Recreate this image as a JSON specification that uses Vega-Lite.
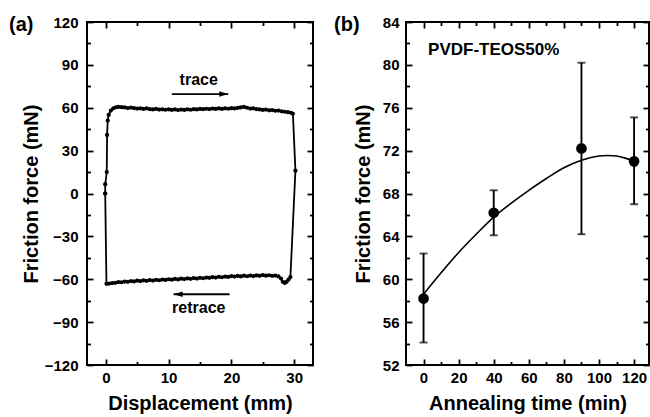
{
  "$schema": "https://vega.github.io/schema/vega-lite/v6.json",
  "padding": {"left": 8, "top": 14, "right": 0, "bottom": 0},
  "bounds": "flush",
  "spacing": 93,
  "config": {
    "font": "Liberation Sans",
    "view": {"stroke": "black", "strokeWidth": 2},
    "axis": {
      "domain": false,
      "tickColor": "black", "tickWidth": 1.8,
      "labelColor": "black", "labelFont": "Liberation Sans", "labelFontSize": 15, "labelFontWeight": "bold",
      "labelFlush": false, "labelOverlap": false, "labelBound": false,
      "titleFont": "Liberation Sans", "titleFontSize": 20, "titleFontWeight": "bold", "titleColor": "black",
      "grid": false
    },
    "title": {"font": "Liberation Sans", "fontSize": 20, "fontWeight": "bold", "color": "black"}
  },
  "datasets": {
    "loop": [
      {"i": 0, "disp": -0.1, "force": 0},
      {"i": 1, "disp": -0.1, "force": 6.5},
      {"i": 2, "disp": 0.15, "force": 15},
      {"i": 3, "disp": 0.2, "force": 41},
      {"i": 4, "disp": 0.3, "force": 51},
      {"i": 5, "disp": 0.45, "force": 55},
      {"i": 6, "disp": 0.8, "force": 58},
      {"i": 7, "disp": 1.2, "force": 59.6},
      {"i": 8, "disp": 1.6, "force": 60.3},
      {"i": 9, "disp": 2.0, "force": 60.6},
      {"i": 10, "disp": 2.5, "force": 60.4},
      {"i": 11, "disp": 3.0, "force": 60.2},
      {"i": 12, "disp": 3.5, "force": 59.8},
      {"i": 13, "disp": 4.0, "force": 60.1},
      {"i": 14, "disp": 4.5, "force": 59.7},
      {"i": 15, "disp": 5.0, "force": 59.4},
      {"i": 16, "disp": 5.5, "force": 59.6},
      {"i": 17, "disp": 6.0, "force": 59.2},
      {"i": 18, "disp": 6.5, "force": 59.5},
      {"i": 19, "disp": 7.0, "force": 59.0},
      {"i": 20, "disp": 7.5, "force": 58.8},
      {"i": 21, "disp": 8.0, "force": 59.2},
      {"i": 22, "disp": 8.5, "force": 58.7},
      {"i": 23, "disp": 9.0, "force": 58.9},
      {"i": 24, "disp": 9.5, "force": 58.6},
      {"i": 25, "disp": 10.0, "force": 58.9},
      {"i": 26, "disp": 10.5, "force": 58.5},
      {"i": 27, "disp": 11.0, "force": 58.8},
      {"i": 28, "disp": 11.5, "force": 58.4},
      {"i": 29, "disp": 12.0, "force": 58.7},
      {"i": 30, "disp": 12.5, "force": 58.5},
      {"i": 31, "disp": 13.0, "force": 58.9},
      {"i": 32, "disp": 13.5, "force": 58.6},
      {"i": 33, "disp": 14.0, "force": 59.0},
      {"i": 34, "disp": 14.5, "force": 58.8},
      {"i": 35, "disp": 15.0, "force": 59.2},
      {"i": 36, "disp": 15.5, "force": 59.0},
      {"i": 37, "disp": 16.0, "force": 59.3},
      {"i": 38, "disp": 16.5, "force": 59.1},
      {"i": 39, "disp": 17.0, "force": 59.4},
      {"i": 40, "disp": 17.5, "force": 59.2},
      {"i": 41, "disp": 18.0, "force": 59.5},
      {"i": 42, "disp": 18.5, "force": 59.2},
      {"i": 43, "disp": 19.0, "force": 59.6},
      {"i": 44, "disp": 19.5, "force": 59.3},
      {"i": 45, "disp": 20.0, "force": 59.7},
      {"i": 46, "disp": 20.5, "force": 59.5},
      {"i": 47, "disp": 21.0, "force": 59.9},
      {"i": 48, "disp": 21.5, "force": 60.2},
      {"i": 49, "disp": 22.0, "force": 60.6},
      {"i": 50, "disp": 22.5, "force": 60.0},
      {"i": 51, "disp": 23.0, "force": 59.4},
      {"i": 52, "disp": 23.5, "force": 59.6},
      {"i": 53, "disp": 24.0, "force": 59.0},
      {"i": 54, "disp": 24.5, "force": 58.8},
      {"i": 55, "disp": 25.0, "force": 58.5},
      {"i": 56, "disp": 25.5, "force": 58.7},
      {"i": 57, "disp": 26.0, "force": 58.2},
      {"i": 58, "disp": 26.5, "force": 58.4},
      {"i": 59, "disp": 27.0, "force": 57.9},
      {"i": 60, "disp": 27.5, "force": 58.0},
      {"i": 61, "disp": 28.0, "force": 57.5},
      {"i": 62, "disp": 28.5, "force": 57.2},
      {"i": 63, "disp": 29.0, "force": 56.9},
      {"i": 64, "disp": 29.5, "force": 56.5},
      {"i": 65, "disp": 29.8, "force": 55.8},
      {"i": 66, "disp": 30.2, "force": 16},
      {"i": 67, "disp": 29.4, "force": -58.5},
      {"i": 68, "disp": 29.1, "force": -60.2},
      {"i": 69, "disp": 28.8, "force": -61.8},
      {"i": 70, "disp": 28.5, "force": -62.6},
      {"i": 71, "disp": 28.2, "force": -61.8},
      {"i": 72, "disp": 27.9, "force": -59.5},
      {"i": 73, "disp": 27.5, "force": -58.0},
      {"i": 74, "disp": 27.0, "force": -57.4},
      {"i": 75, "disp": 26.5, "force": -57.6},
      {"i": 76, "disp": 26.0, "force": -57.2},
      {"i": 77, "disp": 25.5, "force": -57.5},
      {"i": 78, "disp": 25.0, "force": -57.1},
      {"i": 79, "disp": 24.5, "force": -57.6},
      {"i": 80, "disp": 24.0, "force": -57.3},
      {"i": 81, "disp": 23.5, "force": -57.8},
      {"i": 82, "disp": 23.0, "force": -57.4},
      {"i": 83, "disp": 22.5, "force": -57.9},
      {"i": 84, "disp": 22.0, "force": -57.5},
      {"i": 85, "disp": 21.5, "force": -58.0},
      {"i": 86, "disp": 21.0, "force": -57.6},
      {"i": 87, "disp": 20.5, "force": -58.1},
      {"i": 88, "disp": 20.0, "force": -57.8},
      {"i": 89, "disp": 19.5, "force": -58.4},
      {"i": 90, "disp": 19.0, "force": -58.1},
      {"i": 91, "disp": 18.5, "force": -58.6},
      {"i": 92, "disp": 18.0, "force": -58.3},
      {"i": 93, "disp": 17.5, "force": -58.8},
      {"i": 94, "disp": 17.0, "force": -58.5},
      {"i": 95, "disp": 16.5, "force": -59.0},
      {"i": 96, "disp": 16.0, "force": -58.8},
      {"i": 97, "disp": 15.5, "force": -59.3},
      {"i": 98, "disp": 15.0, "force": -59.0},
      {"i": 99, "disp": 14.5, "force": -59.5},
      {"i": 100, "disp": 14.0, "force": -59.2},
      {"i": 101, "disp": 13.5, "force": -59.7},
      {"i": 102, "disp": 13.0, "force": -59.4},
      {"i": 103, "disp": 12.5, "force": -59.9},
      {"i": 104, "disp": 12.0, "force": -59.6},
      {"i": 105, "disp": 11.5, "force": -60.1},
      {"i": 106, "disp": 11.0, "force": -59.8},
      {"i": 107, "disp": 10.5, "force": -60.3},
      {"i": 108, "disp": 10.0, "force": -60.0},
      {"i": 109, "disp": 9.5, "force": -60.5},
      {"i": 110, "disp": 9.0, "force": -60.2},
      {"i": 111, "disp": 8.5, "force": -60.7},
      {"i": 112, "disp": 8.0, "force": -60.4},
      {"i": 113, "disp": 7.5, "force": -60.9},
      {"i": 114, "disp": 7.0, "force": -60.6},
      {"i": 115, "disp": 6.5, "force": -61.1},
      {"i": 116, "disp": 6.0, "force": -60.8},
      {"i": 117, "disp": 5.5, "force": -61.3},
      {"i": 118, "disp": 5.0, "force": -61.0},
      {"i": 119, "disp": 4.5, "force": -61.5},
      {"i": 120, "disp": 4.0, "force": -61.3},
      {"i": 121, "disp": 3.5, "force": -61.8},
      {"i": 122, "disp": 3.0, "force": -61.6},
      {"i": 123, "disp": 2.5, "force": -62.1},
      {"i": 124, "disp": 2.0, "force": -62.0},
      {"i": 125, "disp": 1.5, "force": -62.5},
      {"i": 126, "disp": 1.0, "force": -62.7},
      {"i": 127, "disp": 0.5, "force": -63.0},
      {"i": 128, "disp": 0.1, "force": -63.2},
      {"i": 129, "disp": -0.1, "force": 0}
    ],
    "labelsA": [
      {"lx": 14.8, "ly": 79.5, "text": "trace"},
      {"lx": 14.8, "ly": -80.3, "text": "retrace"}
    ],
    "arrowsA": [
      {"x1": 10.5, "x2": 19.5, "ay": 69.6, "tip": 19.5, "dir": "right"},
      {"x1": 10.8, "x2": 19.7, "ay": -70.5, "tip": 10.8, "dir": "left"}
    ],
    "friction": [
      {"t": 0, "f": 58.2, "lo": 54.1, "hi": 62.4},
      {"t": 40, "f": 66.2, "lo": 64.1, "hi": 68.3},
      {"t": 90, "f": 72.2, "lo": 64.2, "hi": 80.2},
      {"t": 120, "f": 71.0, "lo": 67.0, "hi": 75.1}
    ],
    "fit": [
      {"t": 0, "f": 58.6},
      {"t": 10, "f": 60.6},
      {"t": 20, "f": 62.5},
      {"t": 30, "f": 64.2},
      {"t": 40, "f": 65.8},
      {"t": 50, "f": 67.1},
      {"t": 60, "f": 68.3},
      {"t": 70, "f": 69.4},
      {"t": 80, "f": 70.4},
      {"t": 90, "f": 71.1},
      {"t": 100, "f": 71.5},
      {"t": 105, "f": 71.55},
      {"t": 110, "f": 71.5},
      {"t": 115, "f": 71.3},
      {"t": 120, "f": 71.0}
    ],
    "labelsB": [
      {"lx": 40, "ly": 81.4, "text": "PVDF-TEOS50%"}
    ]
  },
  "hconcat": [
    {
      "width": 226,
      "height": 343,
      "title": {"text": "(a)", "frame": "group", "anchor": "start", "dx": -78, "offset": 0, "baseline": "alphabetic", "dy": 36},
      "layer": [
        {
          "data": {"name": "loop"},
          "mark": {"type": "line", "color": "black", "strokeWidth": 1.8},
          "encoding": {
            "x": {"field": "disp", "type": "quantitative", "scale": {"domain": [-3, 33], "nice": false, "zero": false},
              "axis": {"orient": "bottom", "title": "Displacement (mm)", "values": [0, 10, 20, 30], "offset": -6, "tickSize": 6,
                "labelPadding": 5, "titlePadding": 8,
                "encode": {"labels": {"update": {"fontWeight": {"value": "bold"}, "stroke": {"value": "black"}, "strokeWidth": {"value": 0.3}}}}}},
            "y": {"field": "force", "type": "quantitative", "scale": {"domain": [-120, 120], "nice": false, "zero": false},
              "axis": {"orient": "left", "title": "Friction force (mN)", "values": [-120, -90, -60, -30, 0, 30, 60, 90, 120], "offset": -6, "tickSize": 6,
                "labelPadding": 9, "titlePadding": 3,
                "encode": {"labels": {"update": {"fontWeight": {"value": "bold"}, "stroke": {"value": "black"}, "strokeWidth": {"value": 0.3}}}}}},
            "order": {"field": "i", "type": "quantitative"}
          }
        },
        {
          "data": {"name": "loop"},
          "mark": {"type": "circle", "color": "black", "size": 18, "opacity": 1},
          "encoding": {
            "x": {"field": "disp", "type": "quantitative",
              "axis": {"orient": "top", "title": null, "labels": false, "values": [0, 10, 20, 30], "offset": -6, "tickSize": 6}},
            "y": {"field": "force", "type": "quantitative",
              "axis": {"orient": "right", "title": null, "labels": false, "values": [-120, -90, -60, -30, 0, 30, 60, 90, 120], "offset": -6, "tickSize": 6}}
          }
        },
        {
          "data": {"name": "labelsA"},
          "mark": {"type": "text", "fontSize": 16, "fontWeight": "bold", "color": "black", "align": "center", "baseline": "middle"},
          "encoding": {
            "x": {"field": "lx", "type": "quantitative",
              "axis": {"orient": "bottom", "title": null, "labels": false, "values": [5, 15, 25], "offset": -3.5, "tickSize": 3.5}},
            "y": {"field": "ly", "type": "quantitative",
              "axis": {"orient": "left", "title": null, "labels": false, "values": [-105, -75, -45, -15, 15, 45, 75, 105], "offset": -3.5, "tickSize": 3.5}},
            "text": {"field": "text"}
          }
        },
        {
          "data": {"name": "arrowsA"},
          "mark": {"type": "rule", "color": "black", "strokeWidth": 1.8},
          "encoding": {
            "x": {"field": "x1", "type": "quantitative",
              "axis": {"orient": "top", "title": null, "labels": false, "values": [5, 15, 25], "offset": -3.5, "tickSize": 3.5}},
            "x2": {"field": "x2"},
            "y": {"field": "ay", "type": "quantitative",
              "axis": {"orient": "right", "title": null, "labels": false, "values": [-105, -75, -45, -15, 15, 45, 75, 105], "offset": -3.5, "tickSize": 3.5}}
          }
        },
        {
          "data": {"name": "arrowsA"},
          "mark": {"type": "point", "filled": true, "color": "black", "opacity": 1, "size": 81},
          "encoding": {
            "x": {"field": "tip", "type": "quantitative", "axis": null},
            "y": {"field": "ay", "type": "quantitative", "axis": null},
            "shape": {"field": "dir", "type": "nominal", "legend": null,
              "scale": {"domain": ["right", "left"], "range": ["M0,0L-2,-0.6L-2,0.6Z", "M0,0L2,-0.6L2,0.6Z"]}}
          }
        }
      ],
      "resolve": {"axis": {"x": "independent", "y": "independent"}}
    },
    {
      "width": 243,
      "height": 343,
      "title": {"text": "(b)", "frame": "group", "anchor": "start", "dx": -72, "offset": 0, "baseline": "alphabetic", "dy": 36},
      "layer": [
        {
          "data": {"name": "fit"},
          "mark": {"type": "line", "color": "black", "strokeWidth": 1.6, "interpolate": "monotone"},
          "encoding": {
            "x": {"field": "t", "type": "quantitative", "scale": {"domain": [-10, 128.5], "nice": false, "zero": false},
              "axis": {"orient": "bottom", "title": "Annealing time (min)", "values": [0, 20, 40, 60, 80, 100, 120], "offset": -6, "tickSize": 6,
                "labelPadding": 5, "titlePadding": 8,
                "encode": {"labels": {"update": {"fontWeight": {"value": "bold"}, "stroke": {"value": "black"}, "strokeWidth": {"value": 0.3}}}}}},
            "y": {"field": "f", "type": "quantitative", "scale": {"domain": [52, 84], "nice": false, "zero": false},
              "axis": {"orient": "left", "title": "Friction force (mN)", "values": [52, 56, 60, 64, 68, 72, 76, 80, 84], "offset": -6, "tickSize": 6,
                "labelPadding": 7, "titlePadding": 9,
                "encode": {"labels": {"update": {"fontWeight": {"value": "bold"}, "stroke": {"value": "black"}, "strokeWidth": {"value": 0.3}}}}}}
          }
        },
        {
          "data": {"name": "friction"},
          "mark": {"type": "rule", "color": "black", "strokeWidth": 1.9},
          "encoding": {
            "x": {"field": "t", "type": "quantitative",
              "axis": {"orient": "top", "title": null, "labels": false, "values": [0, 20, 40, 60, 80, 100, 120], "offset": -6, "tickSize": 6}},
            "y": {"field": "lo", "type": "quantitative",
              "axis": {"orient": "right", "title": null, "labels": false, "values": [52, 56, 60, 64, 68, 72, 76, 80, 84], "offset": -6, "tickSize": 6}},
            "y2": {"field": "hi"}
          }
        },
        {
          "data": {"name": "friction"},
          "mark": {"type": "tick", "orient": "horizontal", "color": "black", "size": 8, "thickness": 1.9},
          "encoding": {
            "x": {"field": "t", "type": "quantitative",
              "axis": {"orient": "bottom", "title": null, "labels": false, "values": [10, 30, 50, 70, 90, 110], "offset": -3.5, "tickSize": 3.5}},
            "y": {"field": "lo", "type": "quantitative",
              "axis": {"orient": "left", "title": null, "labels": false, "values": [54, 58, 62, 66, 70, 74, 78, 82], "offset": -3.5, "tickSize": 3.5}}
          }
        },
        {
          "data": {"name": "friction"},
          "mark": {"type": "tick", "orient": "horizontal", "color": "black", "size": 8, "thickness": 1.9},
          "encoding": {
            "x": {"field": "t", "type": "quantitative",
              "axis": {"orient": "top", "title": null, "labels": false, "values": [10, 30, 50, 70, 90, 110], "offset": -3.5, "tickSize": 3.5}},
            "y": {"field": "hi", "type": "quantitative",
              "axis": {"orient": "right", "title": null, "labels": false, "values": [54, 58, 62, 66, 70, 74, 78, 82], "offset": -3.5, "tickSize": 3.5}}
          }
        },
        {
          "data": {"name": "friction"},
          "mark": {"type": "circle", "color": "black", "size": 115, "opacity": 1},
          "encoding": {
            "x": {"field": "t", "type": "quantitative", "axis": null},
            "y": {"field": "f", "type": "quantitative", "axis": null}
          }
        },
        {
          "data": {"name": "labelsB"},
          "mark": {"type": "text", "fontSize": 17, "fontWeight": "bold", "color": "black", "align": "center", "baseline": "middle"},
          "encoding": {
            "x": {"field": "lx", "type": "quantitative", "axis": null},
            "y": {"field": "ly", "type": "quantitative", "axis": null},
            "text": {"field": "text"}
          }
        }
      ],
      "resolve": {"axis": {"x": "independent", "y": "independent"}}
    }
  ]
}
